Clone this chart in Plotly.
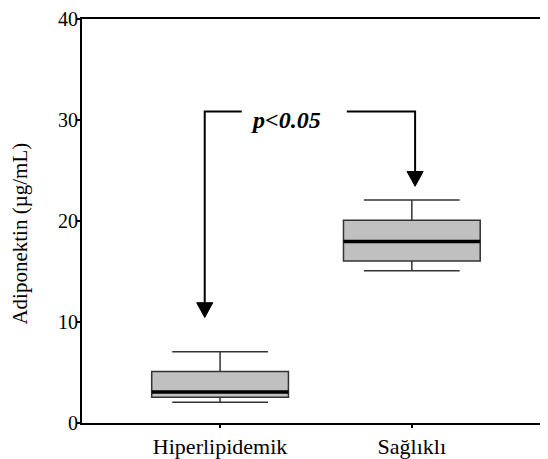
import plotly.graph_objects as go

categories = ["Hiperlipidemik", "Sağlıklı"]
lower_whisker = [2.05, 15.07]
q1 = [2.54, 16.04]
median = [3.06, 17.97]
q3 = [5.1, 20.08]
upper_whisker = [7.06, 22.07]

y_ticks = [0, 10, 20, 30, 40]
y_title = "Adiponektin (µg/mL)"
p_label = "p<0.05"
# bracket: arrow tip values for each group, bracket top value
arrow_tips = [10.45, 23.44]
bracket_top = 30.85

box_width = 0.713
fill_col = "#c0c0c0"
line_col = "#333333"
font_family = "Liberation Serif"

fig = go.Figure()
fig.add_trace(go.Box(
    x=categories,
    q1=q1, median=median, q3=q3,
    lowerfence=lower_whisker, upperfence=upper_whisker,
    width=box_width, whiskerwidth=0.7,
    fillcolor=fill_col,
    line=dict(color=line_col, width=1.5),
    boxpoints=False, hoverinfo="skip", showlegend=False,
))

shapes = []
# thick median lines
for i, m in enumerate(median):
    shapes.append(dict(type="line", xref="x", yref="y",
                       x0=i - box_width / 2, x1=i + box_width / 2, y0=m, y1=m,
                       line=dict(color="black", width=3.5)))

# bracket with arrows
xl = -0.08
xr = 1.017
gap_l = 0.113
gap_r = 0.661
head_h = 1.46
head_w = 0.042
path = (f"M {xl},{arrow_tips[0] + head_h} L {xl},{bracket_top} L {gap_l},{bracket_top} "
        f"M {gap_r},{bracket_top} L {xr},{bracket_top} L {xr},{arrow_tips[1] + head_h}")
shapes.append(dict(type="path", xref="x", yref="y", path=path,
                   line=dict(color="black", width=2)))
for xa, tip in [(xl, arrow_tips[0]), (xr, arrow_tips[1])]:
    tri = f"M {xa - head_w},{tip + head_h} L {xa + head_w},{tip + head_h} L {xa},{tip} Z"
    shapes.append(dict(type="path", xref="x", yref="y", path=tri,
                       fillcolor="black", line=dict(color="black", width=1)))

fig.update_layout(
    width=540, height=451,
    margin=dict(l=74, r=0, t=7, b=35),
    paper_bgcolor="white", plot_bgcolor="white",
    font=dict(family=font_family, color="black", size=18),
    shapes=shapes,
    annotations=[
        dict(x=0.346, y=30.0, xref="x", yref="y", text=f"<b><i>{p_label}</i></b>",
             showarrow=False, font=dict(size=24, family=font_family, color="black")),
        dict(x=-0.133, y=0.469, xref="paper", yref="paper", text=y_title, textangle=-90,
             showarrow=False, xanchor="center", yanchor="middle",
             font=dict(size=21, family=font_family, color="black")),
    ],
    xaxis=dict(range=[-0.72, 1.71], showline=True, linecolor="black", linewidth=2,
               mirror=True, ticks="outside", ticklen=3, tickwidth=2, tickcolor="black",
               showgrid=False, zeroline=False, tickfont=dict(size=22)),
    yaxis=dict(range=[0, 40], tickvals=y_ticks, showline=True, linecolor="black", linewidth=2,
               ticks="outside", ticklen=4, tickwidth=2, tickcolor="black",
               showgrid=False, zeroline=False, tickfont=dict(size=20),
               ticklabeloverflow="allow", ticklabelstandoff=-6),
)

fig.write_html("out.html")
